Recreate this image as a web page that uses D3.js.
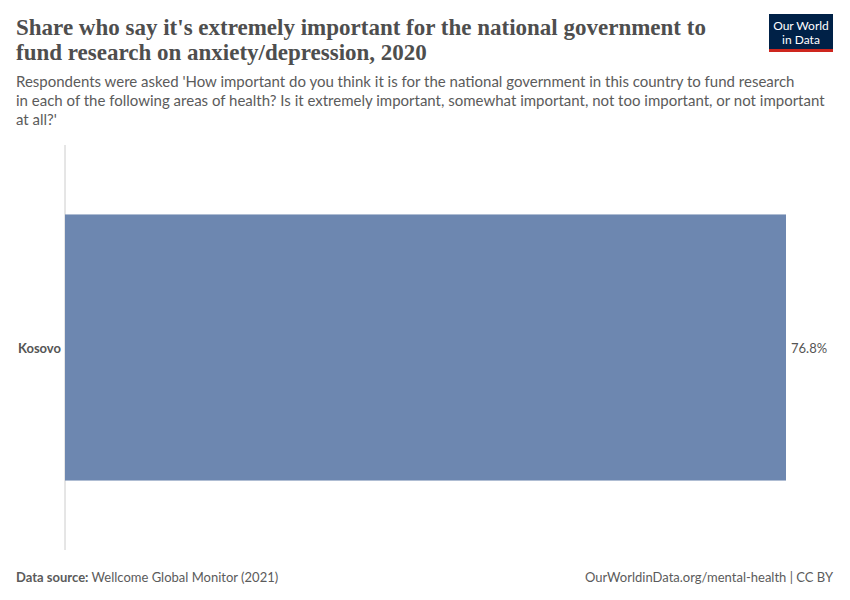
<!doctype html>
<html>
<head>
<script src="https://d3js.org/d3.v7.min.js"></script>
<style>
  body { margin: 0; background: #fff; }
  text { font-family: Lato, "Noto Sans", sans-serif; }
  .title { font-family: "Liberation Serif", "DejaVu Serif", serif; font-size: 23px; font-weight: bold; fill: #4e4e4e; }
  .sub { font-size: 15px; fill: #5b5b5b; }
  .foot { font-size: 13px; fill: #5b5b5b; }
</style>
</head>
<body>
<svg id="chart" width="850" height="600"></svg>
<script>
const countries = ['Kosovo'];
const values = [76.8];

const svg = d3.select('#chart');

const titleLines = ["Share who say it's extremely important for the national government to",
  'fund research on anxiety/depression, 2020'];
svg.selectAll('.title').data(titleLines).join('text')
  .attr('class', 'title').attr('x', 16).attr('y', (d, i) => 35 + i * 25).text(d => d);

const subLines = ["Respondents were asked 'How important do you think it is for the national government in this country to fund research",
  'in each of the following areas of health? Is it extremely important, somewhat important, not too important, or not important',
  "at all?'"];
svg.selectAll('.sub').data(subLines).join('text')
  .attr('class', 'sub').attr('x', 16).attr('y', (d, i) => 87 + i * 19).text(d => d);

// logo
const logo = svg.append('g').attr('transform', 'translate(769,14)');
logo.append('rect').attr('width', 64).attr('height', 38).attr('fill', '#002147');
logo.append('rect').attr('y', 35).attr('width', 64).attr('height', 3).attr('fill', '#ce261e');
logo.append('text').attr('x', 32).attr('y', 16).attr('text-anchor', 'middle')
  .attr('fill', '#fff').style('font-size', '12px').text('Our World');
logo.append('text').attr('x', 32).attr('y', 30).attr('text-anchor', 'middle')
  .attr('fill', '#fff').style('font-size', '12px').text('in Data');

const x = d3.scaleLinear().domain([0, 76.8]).range([65, 786]);
const y = d3.scaleBand().domain(countries).range([145, 550]).paddingInner(0).paddingOuter(0.261);

svg.append('line').attr('x1', 65).attr('x2', 65).attr('y1', 145).attr('y2', 550)
  .attr('stroke', '#ccc').attr('stroke-width', 1);

svg.selectAll('.bar').data(countries).join('rect')
  .attr('x', x(0)).attr('y', d => y(d))
  .attr('width', (d, i) => x(values[i]) - x(0)).attr('height', y.bandwidth())
  .attr('fill', '#6d87b0');

svg.selectAll('.lab').data(countries).join('text')
  .attr('x', 61).attr('y', d => y(d) + y.bandwidth() / 2 + 5)
  .attr('text-anchor', 'end').style('font-size', '13px').style('font-weight', 'bold')
  .attr('fill', '#555').text(d => d);

svg.selectAll('.val').data(countries).join('text')
  .attr('x', (d, i) => x(values[i]) + 5).attr('y', d => y(d) + y.bandwidth() / 2 + 5)
  .style('font-size', '13px').attr('fill', '#555').text((d, i) => values[i] + '%');

const src = svg.append('text').attr('class', 'foot').attr('x', 16).attr('y', 582);
src.append('tspan').style('font-weight', 'bold').text('Data source: ');
src.append('tspan').text('Wellcome Global Monitor (2021)');
svg.append('text').attr('class', 'foot').attr('x', 833).attr('y', 582)
  .attr('text-anchor', 'end').text('OurWorldinData.org/mental-health | CC BY');
</script>
</body>
</html>
